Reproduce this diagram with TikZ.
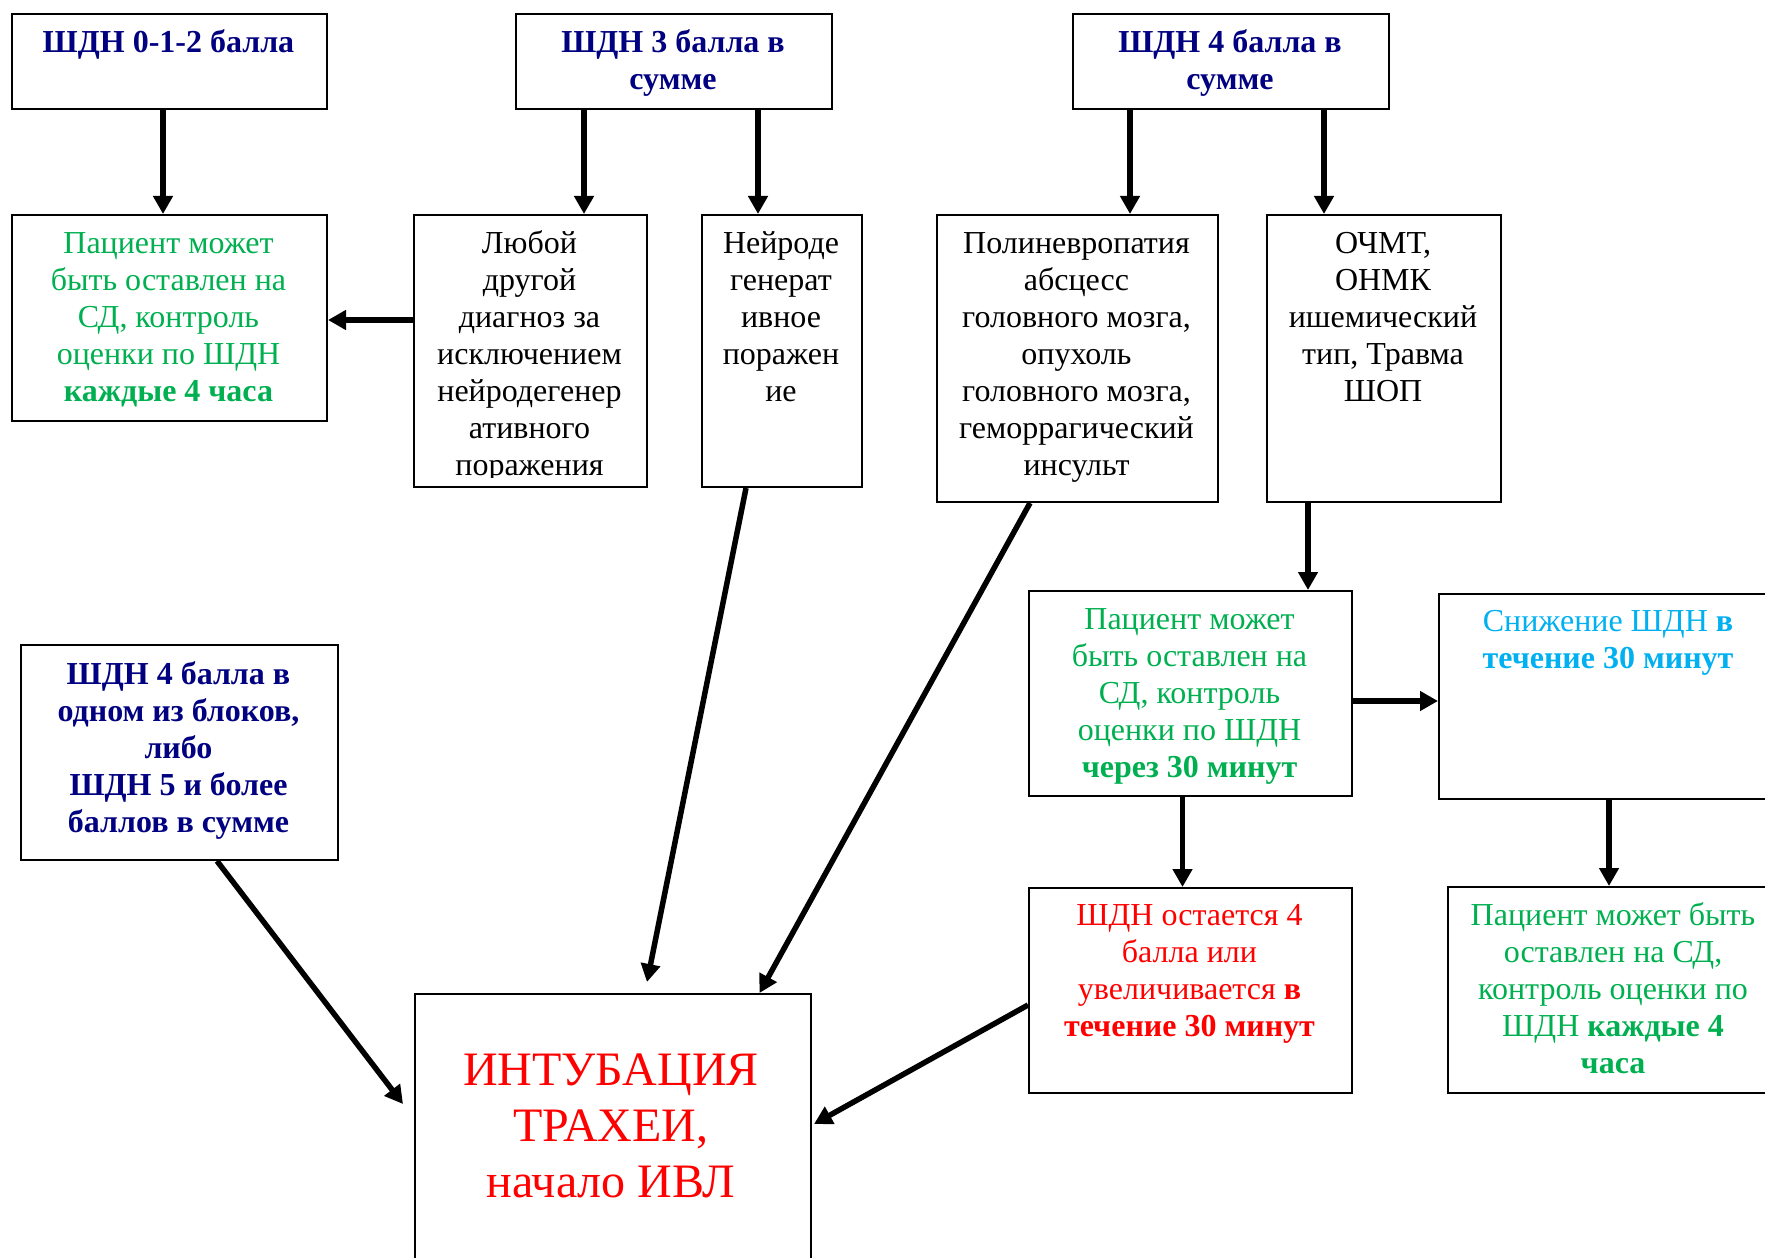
\documentclass[tikz,border=0pt]{standalone}
\usepackage{fontspec}
\setmainfont{Liberation Serif}
\usetikzlibrary{arrows.meta,calc}
\definecolor{navyc}{HTML}{000080}
\definecolor{greenc}{HTML}{00B050}
\definecolor{cyanc}{HTML}{00B0F0}
\definecolor{redc}{HTML}{FF0000}
\begin{document}
\begin{tikzpicture}[x=0.5pt,y=-0.5pt,
  box/.style={draw=black,line width=1pt,anchor=north west,inner sep=0pt,fill=none},
  txt/.style={font=\fontsize{16}{18.5}\selectfont,align=center,inner sep=0pt,anchor=north},
  big/.style={font=\fontsize{24}{28}\selectfont,align=center,inner sep=0pt,anchor=north},
  arr/.style={line width=2.75pt,-{Triangle[length=9pt,width=9.5pt]}}]
\useasboundingbox (0,0) rectangle (1765,1257);
\clip (0,0) rectangle (1765,1257);
% boxes
\node[box,minimum width=157.5pt,minimum height=47.5pt] (A) at (11,13) {};
\node[box,minimum width=158pt,minimum height=47.5pt] (B) at (515,13) {};
\node[box,minimum width=158pt,minimum height=47.5pt] (F) at (1072,13) {};
\node[box,minimum width=157.5pt,minimum height=103pt] (C) at (11,214) {};
\node[box,minimum width=116.5pt,minimum height=136pt] (D) at (413,214) {};
\node[box,minimum width=80pt,minimum height=136pt] (E) at (701,214) {};
\node[box,minimum width=140.5pt,minimum height=143.5pt] (G) at (936,214) {};
\node[box,minimum width=117pt,minimum height=143.5pt] (H) at (1266,214) {};
\node[box,minimum width=161.5pt,minimum height=102.5pt] (I) at (1028,590) {};
\node[box,minimum width=170pt,minimum height=102.5pt] (J) at (1438,593) {};
\node[box,minimum width=161.5pt,minimum height=102.5pt] (K) at (1028,887) {};
\node[box,minimum width=166pt,minimum height=103pt] (L) at (1447,886) {};
\node[box,minimum width=158.5pt,minimum height=107.5pt] (M) at (20,644) {};
\node[box,minimum width=198pt,minimum height=150pt] (N) at (414,993) {};
% texts
\node[txt,text=navyc] (tA) at (168.5,26) {\strut\textbf{ШДН 0-1-2 балла}};
\node[txt,text=navyc] (tB) at (673,26) {\strut\textbf{ШДН 3 балла в}\\\textbf{сумме}};
\node[txt,text=navyc] (tF) at (1230,26) {\strut\textbf{ШДН 4 балла в}\\\textbf{сумме}};
\node[txt,text=greenc] (tC) at (168.5,227) {\strut Пациент может\\быть оставлен на\\СД, контроль\\оценки по ШДН\\\textbf{каждые 4 часа}};
\begin{scope}
\clip (D.north west) rectangle ($(D.south east)+(0,-11)$);
\node[txt] (tD) at (529.5,227) {\strut Любой\\другой\\диагноз за\\исключением\\нейродегенер\\ативного\\поражения};
\end{scope}
\node[txt] (tE) at (781,227) {\strut Нейроде\\генерат\\ивное\\поражен\\ие};
\node[txt] (tG) at (1076.5,227) {\strut Полиневропатия\\абсцесс\\головного мозга,\\опухоль\\головного мозга,\\геморрагический\\инсульт};
\node[txt] (tH) at (1383,227) {\strut ОЧМТ,\\ОНМК\\ишемический\\тип, Травма\\ШОП};
\node[txt,text=greenc] (tI) at (1189.5,603) {\strut Пациент может\\быть оставлен на\\СД, контроль\\оценки по ШДН\\\textbf{через 30 минут}};
\node[txt,text=cyanc] (tJ) at (1608,605.5) {\strut Снижение ШДН \textbf{в}\\\textbf{течение 30 минут}};
\node[txt,text=redc] (tK) at (1189.5,899) {\strut ШДН остается 4\\балла или\\увеличивается \textbf{в}\\\textbf{течение 30 минут}};
\node[txt,text=greenc] (tL) at (1613,899) {\strut Пациент может быть\\оставлен на СД,\\контроль оценки по\\ШДН \textbf{каждые 4}\\\textbf{часа}};
\node[txt,text=navyc] (tM) at (178.5,658) {\strut\textbf{ШДН 4 балла в}\\\textbf{одном из блоков,}\\\textbf{либо}\\\textbf{ШДН 5 и более}\\\textbf{баллов в сумме}};
\node[big,text=redc] (tN) at (611,1046) {\strut ИНТУБАЦИЯ\\ТРАХЕИ,\\начало ИВЛ};
% connector anchor points
\coordinate (sA) at ($(A.south)+(-6.5,0)$);
\coordinate (sB1) at ($(B.south)+(-90,0)$);
\coordinate (sB2) at ($(B.south)+(84,0)$);
\coordinate (sF1) at ($(F.south)+(-101,0)$);
\coordinate (sF2) at ($(F.south)+(93,0)$);
\coordinate (sD) at ($(D.west)+(0,-31)$);
\coordinate (sH) at ($(H.south)+(-76,0)$);
\coordinate (sI1) at ($(I.east)+(0,7.5)$);
\coordinate (sI2) at ($(I.south)+(-8,0)$);
\coordinate (sE) at ($(E.south)+(-36,0)$);
\coordinate (sG) at ($(G.south)+(-47.5,0)$);
\coordinate (sM) at ($(M.south)+(37.5,0)$);
\coordinate (sK) at ($(K.west)+(0,14.5)$);
\coordinate (eEN) at ($(N.north)+(34,-11)$);
\coordinate (eGN) at ($(N.north)+(146.5,0)$);
\coordinate (eMN) at ($(N.north west)+(-11,111)$);
\coordinate (eKN) at ($(N.north east)+(2,131)$);
% connectors
\draw[arr] (sA) -- (sA |- C.north);
\draw[arr] (sB1) -- (sB1 |- D.north);
\draw[arr] (sB2) -- (sB2 |- E.north);
\draw[arr] (sF1) -- (sF1 |- G.north);
\draw[arr] (sF2) -- (sF2 |- H.north);
\draw[arr] (sD) -- (sD -| C.east);
\draw[arr] (sH) -- (sH |- I.north);
\draw[arr] (sI1) -- (sI1 -| J.west);
\draw[arr] (sI2) -- (sI2 |- K.north);
\draw[arr] (J.south) -- (J.south |- L.north);
\draw[arr] (sE) -- (eEN);
\draw[arr] (sG) -- (eGN);
\draw[arr] (sM) -- (eMN);
\draw[arr] (sK) -- (eKN);
\end{tikzpicture}
\end{document}
